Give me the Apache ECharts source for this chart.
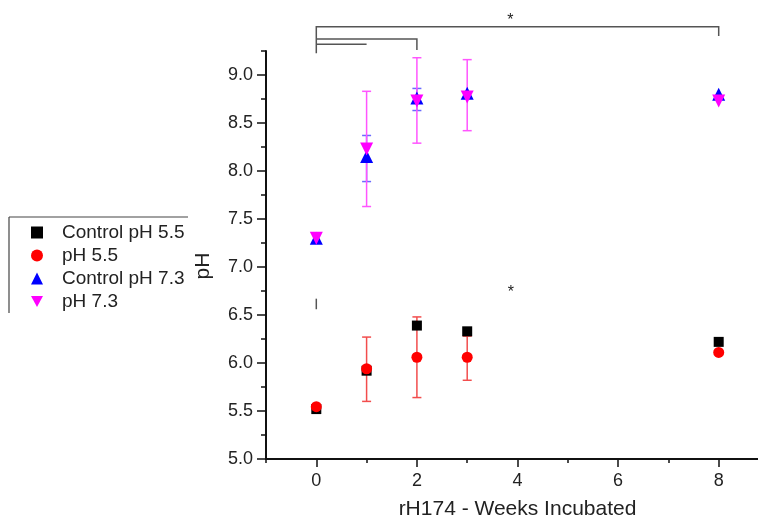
<!DOCTYPE html>
<html>
<head>
<meta charset="utf-8">
<script src="https://cdn.jsdelivr.net/npm/echarts@6/dist/echarts.min.js"></script>
<style>
html,body{margin:0;padding:0;background:#fff;}
#chart{width:758px;height:523px;}
</style>
</head>
<body>
<div id="chart"></div>
<script>
// ---- data ----
const weeks = [0, 1, 2, 3, 8];
const seriesNames = ['Control pH 5.5', 'pH 5.5', 'Control pH 7.3', 'pH 7.3'];
const controlPH55 = [5.52, 5.92, 6.39, 6.33, 6.22];
const pH55 = [5.545, 5.94, 6.06, 6.06, 6.11];
const controlPH73 = [7.30, 8.15, 8.76, 8.81, 8.80];
const pH73 = [7.30, 8.23, 8.73, 8.77, 8.73];

const pH55ErrWeeks = [1, 2, 3];
const pH55Low = [5.60, 5.64, 5.82];
const pH55High = [6.27, 6.48, 6.28];
const pH73ErrWeeks = [1, 2, 3];
const pH73Low = [7.63, 8.29, 8.42];
const pH73High = [8.83, 9.18, 9.16];
const ctrl73ErrWeeks = [1, 2];
const ctrl73Low = [7.89, 8.63];
const ctrl73High = [8.37, 8.86];

const xTickLabels = ['0', '2', '4', '6', '8'];
const yTickLabels = ['5.0', '5.5', '6.0', '6.5', '7.0', '7.5', '8.0', '8.5', '9.0'];

// significance annotations (data coordinates)
const bracketLines = [
  [[0, 9.226], [0, 9.503], [8, 9.503], [8, 9.406]],
  [[0, 9.375], [2, 9.375], [2, 9.26]],
  [[0, 9.32], [1, 9.32]],
  [[0, 6.56], [0, 6.67]]
];
const starMarks = [[3.86, 9.57], [3.87, 6.73]];

// ---- build ----
function zip(xs, ys) { return xs.map((x, i) => [x, ys[i]]); }
function zip3(xs, lo, hi) { return xs.map((x, i) => [x, lo[i], hi[i]]); }

function errRender(color) {
  return function (params, api) {
    const x = api.value(0), lo = api.value(1), hi = api.value(2);
    const p1 = api.coord([x, lo]), p2 = api.coord([x, hi]);
    const w = 4.5;
    const st = { stroke: color, lineWidth: 1.5 };
    return {
      type: 'group',
      children: [
        { type: 'line', shape: { x1: p1[0], y1: p1[1], x2: p2[0], y2: p2[1] }, style: st },
        { type: 'line', shape: { x1: p1[0] - w, y1: p1[1], x2: p1[0] + w, y2: p1[1] }, style: st },
        { type: 'line', shape: { x1: p2[0] - w, y1: p2[1], x2: p2[0] + w, y2: p2[1] }, style: st }
      ]
    };
  };
}

const font = "'Liberation Sans', Arial, sans-serif";
const chart = echarts.init(document.getElementById('chart'), null, { renderer: 'canvas' });

const downTriangle = 'path://M0,0 L10,0 L5,9 Z';

const option = {
  backgroundColor: '#fff',
  animation: false,
  textStyle: { fontFamily: font },
  grid: { left: 266, top: 51, right: -11, bottom: 64, containLabel: false, outerBoundsMode: 'none' },
  legend: {
    data: [
      { name: seriesNames[0], icon: 'rect', itemStyle: { color: '#000' } },
      { name: seriesNames[1], icon: 'circle', itemStyle: { color: '#ff0000' } },
      { name: seriesNames[2], icon: 'triangle', itemStyle: { color: '#0000ff' } },
      { name: seriesNames[3], icon: downTriangle, itemStyle: { color: '#ff00ff' } }
    ],
    orient: 'vertical',
    left: 31,
    top: 223,
    padding: 0,
    itemGap: 4,
    itemWidth: 12,
    itemHeight: 12,
    textStyle: { fontFamily: font, fontSize: 19, color: '#222', lineHeight: 19, padding: [0, 0, 0, 14] }
  },
  graphic: [
    { type: 'line', shape: { x1: 9, y1: 217, x2: 188, y2: 217 }, style: { stroke: '#444', lineWidth: 1.2 } },
    { type: 'line', shape: { x1: 9, y1: 217, x2: 9, y2: 313 }, style: { stroke: '#444', lineWidth: 1.2 } }
  ],
  xAxis: [
    {
      type: 'value', min: -1, max: 9, minInterval: 2, maxInterval: 2, splitNumber: 5,
      position: 'bottom',
      name: 'rH174 - Weeks Incubated', nameLocation: 'middle', nameGap: 40,
      nameTextStyle: { fontFamily: font, fontSize: 21, color: '#222' },
      axisLine: { show: true, onZero: false, lineStyle: { color: '#111', width: 2 } },
      axisTick: { show: true, inside: false, length: 8, lineStyle: { color: '#111', width: 1.5 } },
      axisLabel: {
        margin: 13, fontSize: 18, color: '#222', fontFamily: font,
        showMinLabel: false, showMaxLabel: false,
        formatter: function (v) { const s = String(Math.round(v)); return xTickLabels.indexOf(s) >= 0 ? s : ''; }
      },
      splitLine: { show: false }
    },
    {
      type: 'value', min: -1, max: 9, interval: 1, position: 'bottom',
      axisLine: { show: false, onZero: false },
      axisTick: { show: true, inside: false, length: 4, lineStyle: { color: '#111', width: 1.5 } },
      axisLabel: { show: false },
      splitLine: { show: false }
    }
  ],
  yAxis: [
    {
      type: 'value', min: 5, max: 9.25, interval: 0.5, position: 'left',
      name: 'pH', nameLocation: 'middle', nameGap: 52,
      nameTextStyle: { fontFamily: font, fontSize: 21, color: '#222', padding: [0, 22, 0, 0] },
      axisLine: { show: true, onZero: false, lineStyle: { color: '#111', width: 2 } },
      axisTick: { show: true, inside: false, length: 9, lineStyle: { color: '#111', width: 1.5 } },
      axisLabel: {
        margin: 13, fontSize: 18, color: '#222', fontFamily: font,
        showMaxLabel: false,
        formatter: function (v) { const s = v.toFixed(1); return yTickLabels.indexOf(s) >= 0 ? s : ''; }
      },
      splitLine: { show: false }
    },
    {
      type: 'value', min: 5, max: 9.25, interval: 0.25, position: 'left',
      axisLine: { show: false, onZero: false },
      axisTick: { show: true, inside: false, length: 5, lineStyle: { color: '#111', width: 1.5 } },
      axisLabel: { show: false },
      splitLine: { show: false }
    }
  ],
  series: [
    {
      name: 'annotations', type: 'custom', clip: false, silent: true, z: 1,
      data: bracketLines.map((pts, i) => ({ value: [pts[0][0], pts[0][1], i] })),
      renderItem: function (params, api) {
        const pts = bracketLines[params.dataIndex].map(p => api.coord(p));
        return { type: 'polyline', shape: { points: pts }, style: { stroke: '#555', lineWidth: 1.5, fill: null } };
      }
    },
    {
      name: 'stars', type: 'custom', clip: false, silent: true, z: 1,
      data: starMarks,
      renderItem: function (params, api) {
        const p = api.coord([api.value(0), api.value(1)]);
        return { type: 'text', x: p[0], y: p[1], style: { text: '*', fontSize: 16, fontFamily: font, fill: '#222', align: 'center', verticalAlign: 'middle' } };
      }
    },
    { name: 'errRed', type: 'custom', clip: false, z: 2, encode: { x: 0, y: [1, 2] }, data: zip3(pH55ErrWeeks, pH55Low, pH55High), renderItem: errRender('#f24d4d') },
    { name: 'errBlue', type: 'custom', clip: false, z: 2, encode: { x: 0, y: [1, 2] }, data: zip3(ctrl73ErrWeeks, ctrl73Low, ctrl73High), renderItem: errRender('#6a6aff') },
    { name: 'errMag', type: 'custom', clip: false, z: 2, encode: { x: 0, y: [1, 2] }, data: zip3(pH73ErrWeeks, pH73Low, pH73High), renderItem: errRender('#ff55ff') },
    { name: seriesNames[0], type: 'scatter', z: 3, symbol: 'rect', symbolSize: 10, itemStyle: { color: '#000', opacity: 1 }, data: zip(weeks, controlPH55) },
    { name: seriesNames[1], type: 'scatter', z: 3, symbol: 'circle', symbolSize: 11, itemStyle: { color: '#ff0000', opacity: 1 }, data: zip(weeks, pH55) },
    { name: seriesNames[2], type: 'scatter', z: 3, symbol: 'triangle', symbolSize: 13, itemStyle: { color: '#0000ff', opacity: 1 }, data: zip(weeks, controlPH73) },
    { name: seriesNames[3], type: 'scatter', z: 3, symbol: 'triangle', symbolRotate: 180, symbolSize: 13, itemStyle: { color: '#ff00ff', opacity: 1 }, data: zip(weeks, pH73) }
  ]
};
chart.setOption(option);
</script>
</body>
</html>
